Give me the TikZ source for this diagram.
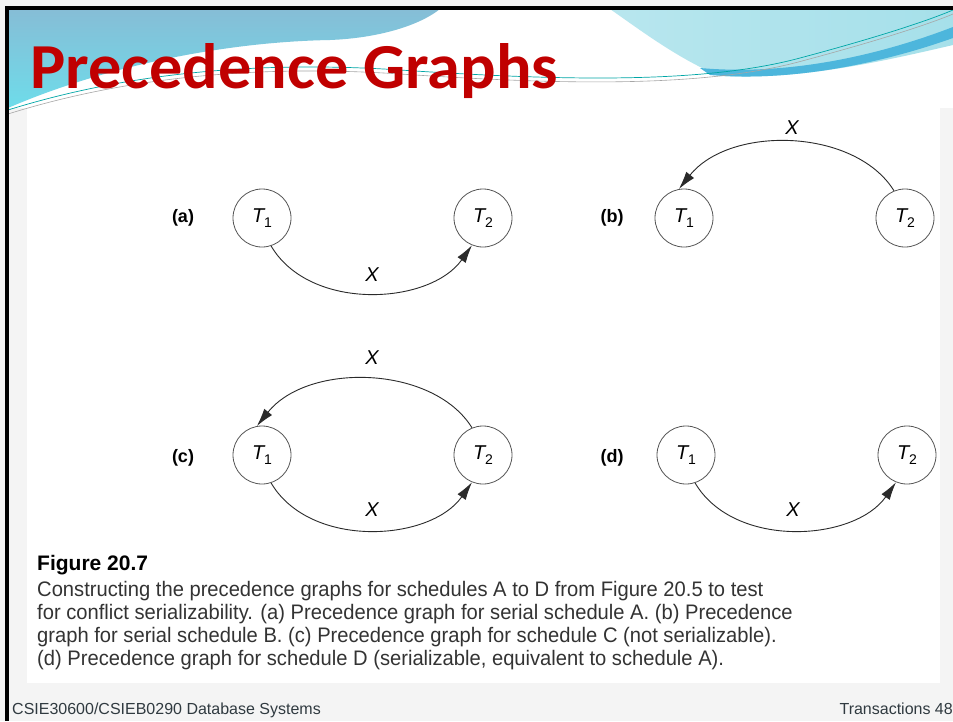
\documentclass[tikz,border=0pt]{standalone}
\usepackage{fontspec}
\setmainfont{Liberation Sans}
\newfontfamily\titlefont{Carlito}
\newfontfamily\capfont[FakeStretch=0.96]{Liberation Sans}
\usetikzlibrary{arrows.meta}
\definecolor{titlered}{HTML}{C00000}
\definecolor{bluetl}{HTML}{86BDD6}
\definecolor{bluebl}{HTML}{6EDCEA}
\definecolor{cyanr}{HTML}{A6E0EA}
\definecolor{bandblue}{HTML}{4DB6DC}
\definecolor{slidebg}{HTML}{F4F4F4}
\definecolor{edgegray}{HTML}{2A2A2A}
\definecolor{circgray}{HTML}{555555}
\definecolor{capgray}{HTML}{333333}
\definecolor{footgray}{HTML}{303A40}
\tikzset{
  tnode/.style={circle,draw=circgray,line width=0.8pt,minimum size=58pt,inner sep=0pt,fill=white},
  edge/.style={draw=edgegray,line width=0.9pt,-{Latex[length=18pt,width=10pt]}},
  xlab/.style={font=\fontsize{20}{24}\selectfont\itshape,inner sep=0pt},
  plab/.style={font=\fontsize{18}{22}\selectfont\bfseries,inner sep=0pt},
  capline/.style={anchor=base west,inner sep=0pt,font=\capfont\fontsize{21}{24}\selectfont,text=capgray},
  foot/.style={inner sep=0pt,font=\fontsize{16}{18}\selectfont,text=footgray}
}
\newcommand{\tn}[1]{\fontsize{20}{24}\selectfont\textit{T}\hspace{-1.5pt}\raisebox{-5pt}{\fontsize{14}{14}\selectfont #1}}
\begin{document}
\begin{tikzpicture}[x=1pt,y=-1pt]
\useasboundingbox (0,0) rectangle (953,721);
% backgrounds
\fill[slidebg] (0,0) rectangle (953,721);
\fill[white] (8,9) rectangle (953,108);
\fill[white] (27,108) rectangle (940,683);
% banner: left blue region
\shade[top color=bluetl,bottom color=bluebl] (8,9) -- (440,9) .. controls (420,25) and (380,38) .. (330,40) .. controls (220,42) and (100,68) .. (8,108) -- cycle;
% right cyan region
\shade[left color=cyanr!80!white,right color=cyanr] (610,9) -- (953,9) -- (953,45) .. controls (880,62) and (800,80) .. (720,76) .. controls (680,60) and (640,30) .. (610,9) -- cycle;
% band
\fill[bandblue] (700,68) .. controls (790,76) and (880,55) .. (953,27) -- (953,38) .. controls (880,64) and (790,82) .. (710,75) -- cycle;
% thin lines
\draw[teal!70!cyan,line width=0.7pt] (8,110) .. controls (120,75) and (250,60) .. (400,70) .. controls (550,80) and (700,85) .. (800,58) .. controls (860,42) and (920,24) .. (953,10);
\draw[gray!70,line width=0.6pt] (8,114) .. controls (120,79) and (250,64) .. (400,74) .. controls (550,84) and (700,89) .. (802,61) .. controls (862,45) and (922,27) .. (953,14);
% border
\fill[black] (5,6) rectangle (953,9.5);
\fill[black] (5,6) rectangle (8.5,721);
% title
\node[anchor=base west,inner sep=0pt,text=titlered] (title) at (30,88) {\resizebox{528pt}{45pt}{\titlefont\bfseries Precedence Graphs}};
% (a)
\node[plab] (la) at (183,218) {(a)};
\node[tnode] (a1) at (262,218) {\tn{1}};
\node[tnode] (a2) at (483,218) {\tn{2}};
\draw[edge] (a1.-72) .. controls (310,312) and (430,305) .. (a2.-112);
\node[xlab] (ax) at (372,275) {X};
% (b)
\node[plab] (lb) at (612,218) {(b)};
\node[tnode] (b1) at (684,218) {\tn{1}};
\node[tnode] (b2) at (905,218) {\tn{2}};
\draw[edge] (b2.112) .. controls (855,128) and (730,125) .. (b1.100);
\node[xlab] (bx) at (792,128) {X};
% (c)
\node[plab] (lc) at (183,458) {(c)};
\node[tnode] (c1) at (262,455) {\tn{1}};
\node[tnode] (c2) at (483,455) {\tn{2}};
\draw[edge] (c2.112) .. controls (433,365) and (308,362) .. (c1.100);
\draw[edge] (c1.-72) .. controls (310,549) and (430,542) .. (c2.-112);
\node[xlab] (cx1) at (372,358) {X};
\node[xlab] (cx2) at (372,510) {X};
% (d)
\node[plab] (ld) at (612,458) {(d)};
\node[tnode] (d1) at (686,455) {\tn{1}};
\node[tnode] (d2) at (907,455) {\tn{2}};
\draw[edge] (d1.-72) .. controls (734,549) and (854,542) .. (d2.-112);
\node[xlab] (dx) at (793,510) {X};
% caption
\node[capline,font=\fontsize{21}{24}\selectfont\bfseries,text=black] (fig) at (37,570) {Figure 20.7};
\node[capline] (c1l) at (37,596) {Constructing the precedence graphs for schedules A to D from Figure 20.5 to test};
\node[capline] (c2l) at (37,619) {for conflict serializability. (a) Precedence graph for serial schedule A. (b) Precedence};
\node[capline] (c3l) at (37,642) {graph for serial schedule B. (c) Precedence graph for schedule C (not serializable).};
\node[capline] (c4l) at (37,665) {(d) Precedence graph for schedule D (serializable, equivalent to schedule A).};
% footer
\node[foot,anchor=base west] (fl) at (12,714) {CSIE30600/CSIEB0290 Database Systems};
\node[foot,anchor=base east] (fr) at (953,714) {Transactions 48};
\end{tikzpicture}
\end{document}
